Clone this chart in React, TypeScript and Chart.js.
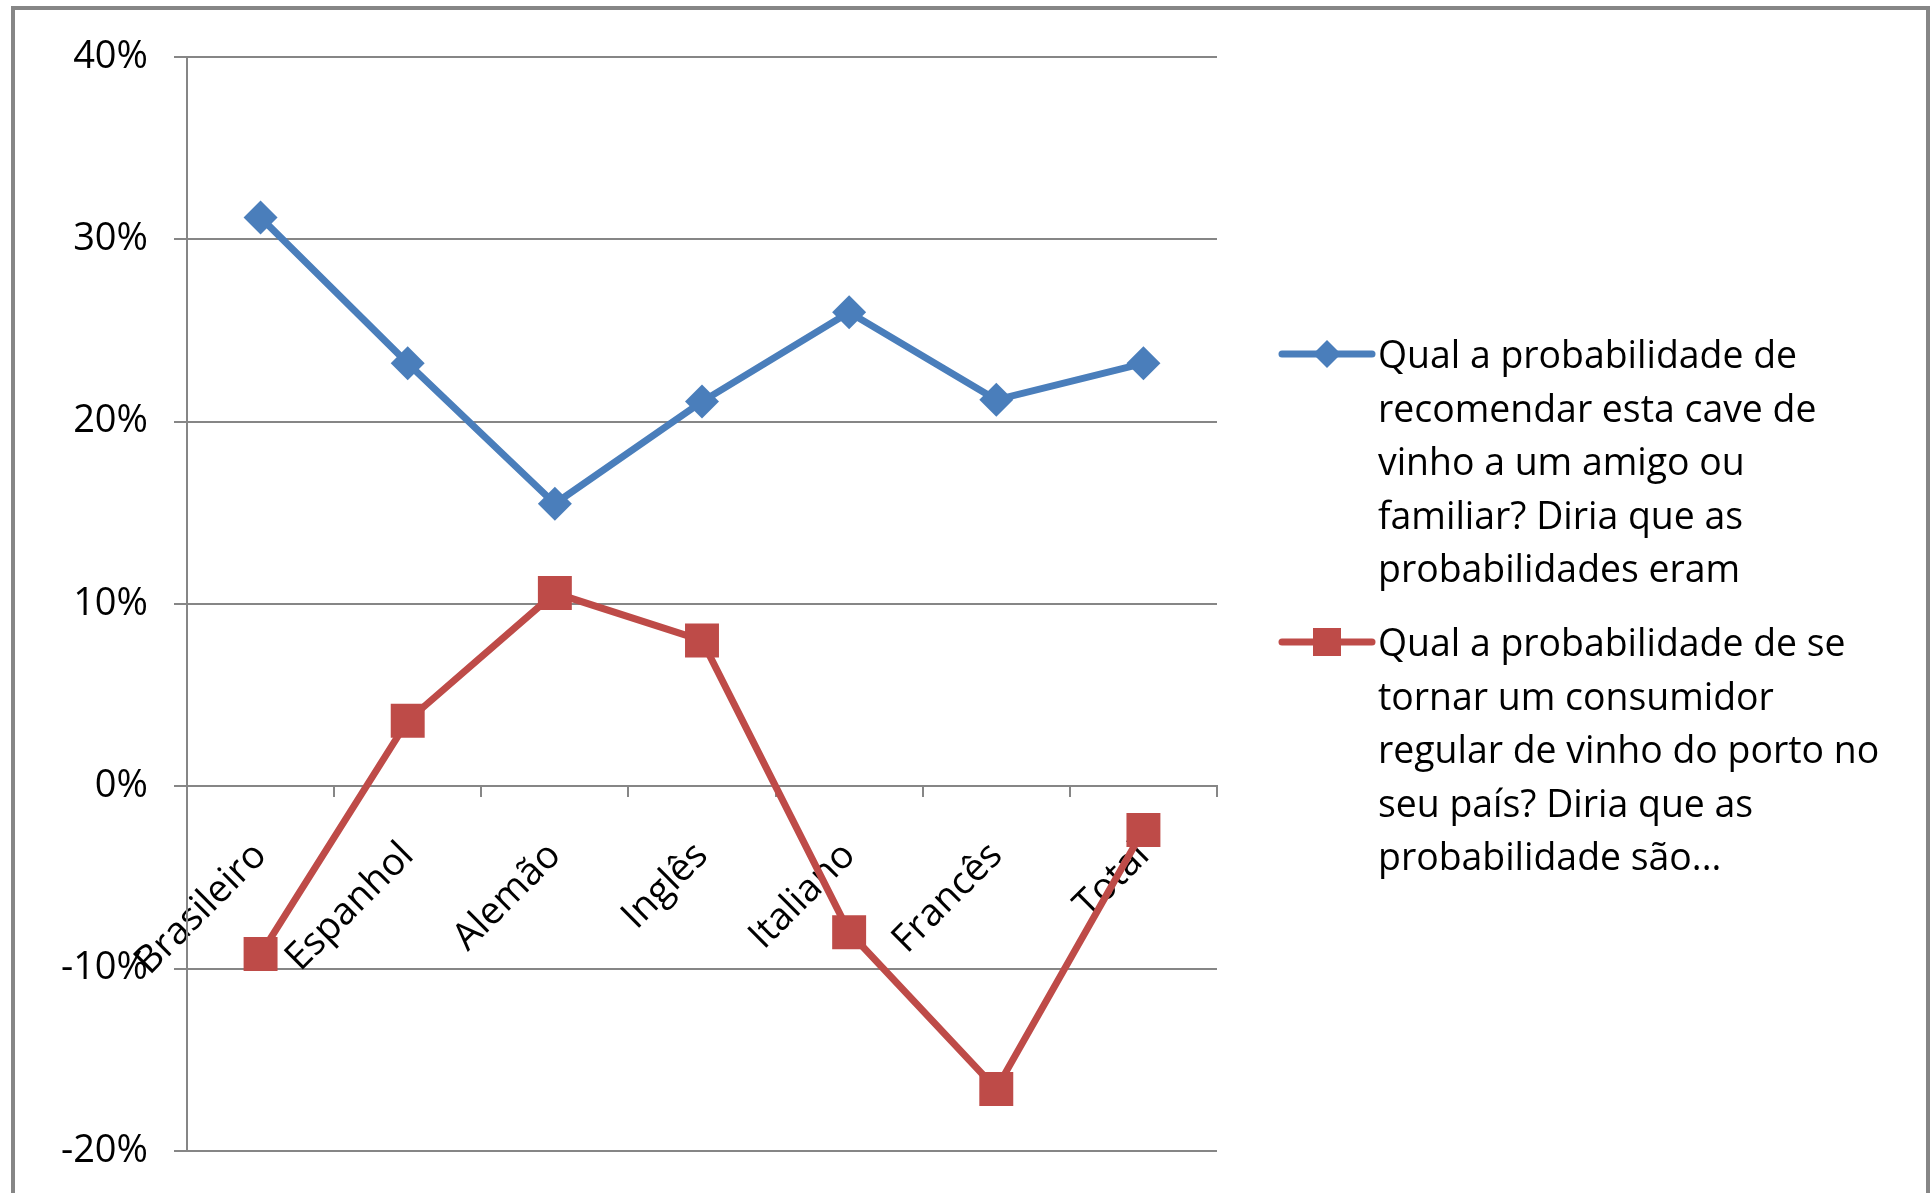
import React, { useEffect, useRef } from 'react';
import { Chart, registerables } from 'chart.js';

Chart.register(...registerables);

// ---- data ----
const categories = ['Brasileiro', 'Espanhol', 'Alemão', 'Inglês', 'Italiano', 'Francês', 'Total'];
const recommendValues = [31.2, 23.2, 15.5, 21.1, 26.0, 21.2, 23.2];
const consumerValues = [-9.2, 3.6, 10.6, 8.0, -8.0, -16.6, -2.4];
const yTickValues = [-20, -10, 0, 10, 20, 30, 40];
const recommendLabelLines = [
  'Qual a probabilidade de',
  'recomendar esta cave de',
  'vinho a um amigo ou',
  'familiar? Diria que as',
  'probabilidades eram',
];
const consumerLabelLines = [
  'Qual a probabilidade de se',
  'tornar um consumidor',
  'regular de vinho do porto no',
  'seu país? Diria que as',
  'probabilidade são...',
];

const BLUE = '#4A7EBB';
const RED = '#BE4B48';
const GRAY = '#868686';
const FONT = 'Open Sans';

export default function App() {
  const canvasRef = useRef<HTMLCanvasElement | null>(null);

  useEffect(() => {
    const canvas = canvasRef.current;
    if (!canvas) return;
    const chart = new Chart(canvas, {
      type: 'line',
      data: {
        labels: categories,
        datasets: [
          {
            label: recommendLabelLines.join(' '),
            data: recommendValues,
            borderColor: BLUE,
            backgroundColor: BLUE,
            borderWidth: 7,
            pointStyle: 'rectRot',
            pointRadius: 17,
            pointBorderWidth: 0,
            pointBackgroundColor: BLUE,
            tension: 0,
          },
          {
            label: consumerLabelLines.join(' '),
            data: consumerValues,
            borderColor: RED,
            backgroundColor: RED,
            borderWidth: 7,
            pointStyle: 'rect',
            pointRadius: 24,
            pointBorderWidth: 0,
            pointBackgroundColor: RED,
            tension: 0,
          },
        ],
      },
      options: {
        animation: false,
        responsive: false,
        maintainAspectRatio: false,
        layout: { padding: { top: 57, left: 20, right: 715, bottom: 42 } },
        plugins: {
          legend: { display: false },
          tooltip: { enabled: false },
        },
        scales: {
          x: {
            type: 'category',
            position: { y: 0 } as any,
            offset: true,
            grid: {
              display: true,
              drawOnChartArea: false,
              drawTicks: true,
              tickLength: 10,
              offset: true,
              color: GRAY,
              lineWidth: 2,
            },
            border: { display: true, color: GRAY, width: 2 },
            ticks: {
              autoSkip: false,
              minRotation: 45,
              maxRotation: 45,
              padding: 37,
              color: '#000',
              font: { family: FONT, size: 38 },
            },
            afterFit: (s: any) => {
              s.height = 0;
              s.paddingLeft = 0;
              s.paddingRight = 0;
              s.paddingTop = 0;
              s.paddingBottom = 0;
            },
          },
          y: {
            min: yTickValues[0],
            max: yTickValues[yTickValues.length - 1],
            afterBuildTicks: (s: any) => {
              s.ticks = yTickValues.map((v) => ({ value: v }));
            },
            ticks: {
              padding: 26,
              color: '#000',
              font: { family: FONT, size: 38 },
              callback: (v: any) => `${v}%`,
            },
            grid: { color: GRAY, lineWidth: 2, tickLength: 13 },
            border: { display: true, color: GRAY, width: 2 },
            afterFit: (s: any) => {
              s.width = 167;
              s.paddingTop = 0;
              s.paddingBottom = 0;
            },
          },
        },
      },
    });
    return () => chart.destroy();
  }, []);

  const legendEntries = [
    { lines: recommendLabelLines, color: BLUE, marker: 'diamond', top: 327 },
    { lines: consumerLabelLines, color: RED, marker: 'square', top: 615 },
  ];

  return (
    <div
      style={{
        position: 'absolute',
        left: 0,
        top: 0,
        width: 1932,
        height: 1193,
        overflow: 'hidden',
        background: '#fff',
      }}
    >
      <div
        style={{
          position: 'absolute',
          left: 11,
          top: 6,
          width: 1919,
          height: 1400,
          border: `4px solid ${GRAY}`,
          boxSizing: 'border-box',
        }}
      />
      <canvas
        ref={canvasRef}
        width={1932}
        height={1193}
        style={{ position: 'absolute', left: 0, top: 0, width: 1932, height: 1193 }}
      />
      {legendEntries.map((e, i) => (
        <div key={i}>
          <svg
            width={100}
            height={40}
            style={{ position: 'absolute', left: 1277, top: e.top + 26.8 - 20 }}
          >
            <line x1={5} y1={20} x2={95} y2={20} stroke={e.color} strokeWidth={7} strokeLinecap="round" />
            {e.marker === 'diamond' ? (
              <polygon points="50,6 64,20 50,34 36,20" fill={e.color} />
            ) : (
              <rect x={36} y={6} width={28} height={28} fill={e.color} />
            )}
          </svg>
          <div
            style={{
              position: 'absolute',
              left: 1378,
              top: e.top,
              fontFamily: FONT,
              fontSize: 37.4,
              lineHeight: '53.6px',
              color: '#000',
              whiteSpace: 'nowrap',
            }}
          >
            {e.lines.map((l, j) => (
              <div key={j}>{l}</div>
            ))}
          </div>
        </div>
      ))}
    </div>
  );
}
